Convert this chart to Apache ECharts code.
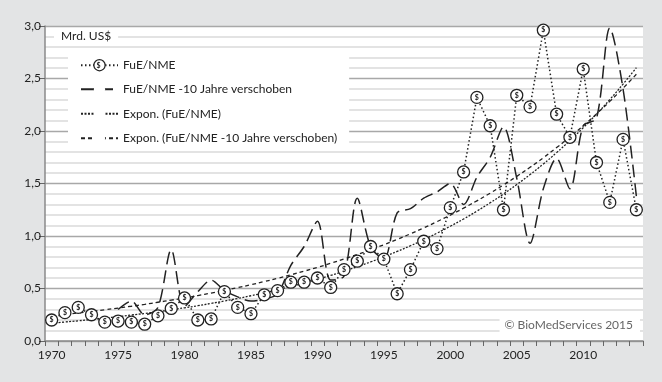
<!DOCTYPE html>
<html>
<head>
<meta charset="utf-8">
<title>FuE/NME</title>
<script src="https://cdn.jsdelivr.net/npm/echarts@6/dist/echarts.min.js"></script>
<style>
  html, body { margin: 0; padding: 0; background: #e3e4e5; }
  #main { width: 662px; height: 382px; }
</style>
</head>
<body>
<div id="main"></div>
<script>
// Jahre
var years = ['1970','1971','1972','1973','1974','1975','1976','1977','1978','1979',
  '1980','1981','1982','1983','1984','1985','1986','1987','1988','1989',
  '1990','1991','1992','1993','1994','1995','1996','1997','1998','1999',
  '2000','2001','2002','2003','2004','2005','2006','2007','2008','2009',
  '2010','2011','2012','2013','2014'];

// FuE/NME (Mrd. US$)
var fueNme = [0.20,0.27,0.32,0.25,0.18,0.19,0.18,0.16,0.24,0.31,
  0.41,0.20,0.21,0.47,0.32,0.26,0.44,0.48,0.56,0.56,
  0.60,0.51,0.68,0.76,0.90,0.78,0.45,0.68,0.95,0.88,
  1.27,1.61,2.32,2.05,1.25,2.34,2.23,2.96,2.16,1.94,
  2.59,1.70,1.32,1.92,1.25];

// FuE/NME -10 Jahre verschoben
var fueNmeShift = ['-','-','-','-','-',0.30,0.38,0.25,0.32,0.87,
  0.33,0.47,0.58,0.48,0.42,0.38,0.40,0.45,0.72,0.90,
  1.14,0.58,0.62,1.36,0.90,0.78,1.22,1.26,1.36,1.42,
  1.50,1.30,1.56,1.75,2.04,1.55,0.93,1.45,1.74,1.45,
  2.05,2.12,2.98,2.40,1.38];

// Expon. (FuE/NME)
var trendFue = [0.170,0.181,0.192,0.205,0.218,0.232,0.247,0.262,0.279,0.297,
  0.316,0.336,0.358,0.381,0.405,0.431,0.459,0.488,0.519,0.552,
  0.588,0.625,0.665,0.708,0.753,0.801,0.853,0.907,0.965,1.027,
  1.093,1.162,1.237,1.316,1.400,1.490,1.585,1.686,1.794,1.909,
  2.031,2.161,2.299,2.447,2.603];

// Expon. (FuE/NME -10 Jahre verschoben)
var trendShift = [0.240,0.253,0.267,0.282,0.297,0.314,0.331,0.349,0.369,0.389,
  0.410,0.433,0.457,0.482,0.508,0.536,0.566,0.597,0.630,0.665,
  0.701,0.740,0.781,0.824,0.869,0.917,0.968,1.021,1.077,1.137,
  1.199,1.265,1.335,1.408,1.486,1.568,1.654,1.745,1.842,1.943,
  2.050,2.163,2.282,2.408,2.540];

var font = 'Lato, "Open Sans", sans-serif';
var ink = '#222';
var noMark = { color: 'rgba(0,0,0,0)', borderWidth: 0 };

var myChart = echarts.init(document.getElementById('main'));
myChart.setOption({
  backgroundColor: '#e3e4e5',
  animation: false,
  textStyle: { fontFamily: font },
  grid: {
    left: 45, right: 19, top: 26, bottom: 41,
    show: true, backgroundColor: '#fff', borderWidth: 0
  },
  legend: {
    orient: 'vertical',
    left: 68, top: 49,
    padding: [10, 12, 2, 12],
    backgroundColor: '#fff',
    itemWidth: 37, itemHeight: 14, itemGap: 11.3,
    textStyle: { fontSize: 12, color: ink, fontFamily: font },
    data: [
      { name: 'FuE/NME', itemStyle: { color: '#fff', borderColor: ink, borderWidth: 1.2 } },
      { name: 'FuE/NME -10 Jahre verschoben', itemStyle: noMark },
      { name: 'Expon. (FuE/NME)', itemStyle: noMark },
      { name: 'Expon. (FuE/NME -10 Jahre verschoben)', itemStyle: noMark }
    ]
  },
  graphic: [
    {
      type: 'text', left: 54, top: 29, z: 10,
      style: { text: 'Mrd. US$', font: '12px ' + font, fill: ink, backgroundColor: '#fff', padding: [1, 7, 1, 7] }
    },
    {
      type: 'text', right: 22, top: 316, z: 10,
      style: { text: '\u00a9 BioMedServices 2015', font: '12px ' + font, fill: '#666', backgroundColor: '#fff', padding: [3, 7, 3, 5] }
    },
    {
      // "$" im Legendensymbol
      type: 'text', x: 98.5, y: 66, z: 100,
      style: { text: '$', font: 'bold 7px ' + font, fill: ink, align: 'center', verticalAlign: 'middle' }
    }
  ],
  xAxis: {
    type: 'category',
    data: years,
    boundaryGap: true,
    axisLine: { lineStyle: { color: '#8a8a8a', width: 1.5 } },
    axisTick: { show: true, interval: 0, length: 5, lineStyle: { color: '#666', width: 1 } },
    axisLabel: { interval: 4, margin: 8, fontSize: 12, color: ink, fontFamily: font },
    splitLine: { show: false }
  },
  yAxis: {
    type: 'value',
    min: 0, max: 3, interval: 0.5,
    axisLine: { show: true, lineStyle: { color: '#8a8a8a', width: 1.5 } },
    axisTick: { show: true, length: 6, lineStyle: { color: '#666', width: 1 } },
    axisLabel: {
      margin: 4, fontSize: 12, color: ink, fontFamily: font,
      formatter: function (v) { return v.toFixed(1).replace('.', ','); }
    },
    splitLine: { lineStyle: { color: '#a8a8a8', width: 1.3 } },
    minorTick: { show: false, splitNumber: 5 },
    minorSplitLine: { show: true, lineStyle: { color: '#dadada', width: 1.5 } }
  },
  series: [
    {
      name: 'FuE/NME',
      type: 'line',
      data: fueNme,
      z: 5,
      symbol: 'circle',
      symbolSize: 12,
      showAllSymbol: true,
      itemStyle: { color: '#fff', borderColor: ink, borderWidth: 1.3 },
      lineStyle: { color: ink, width: 1.5, type: [1.5, 2.5] },
      label: { show: true, position: 'inside', formatter: '$', fontSize: 7, fontWeight: 'bold', color: ink },
      emphasis: { disabled: true }
    },
    {
      name: 'FuE/NME -10 Jahre verschoben',
      type: 'line',
      data: fueNmeShift,
      smooth: 0.3,
      showSymbol: false,
      itemStyle: { color: ink },
      lineStyle: { color: ink, width: 1.5, type: [13, 6] }
    },
    {
      name: 'Expon. (FuE/NME)',
      type: 'line',
      data: trendFue,
      smooth: true,
      showSymbol: false,
      itemStyle: { color: ink },
      lineStyle: { color: ink, width: 1.3, type: [2, 1.5] }
    },
    {
      name: 'Expon. (FuE/NME -10 Jahre verschoben)',
      type: 'line',
      data: trendShift,
      smooth: true,
      showSymbol: false,
      itemStyle: { color: ink },
      lineStyle: { color: ink, width: 1.3, type: [4, 3] }
    }
  ]
});
</script>
</body>
</html>
